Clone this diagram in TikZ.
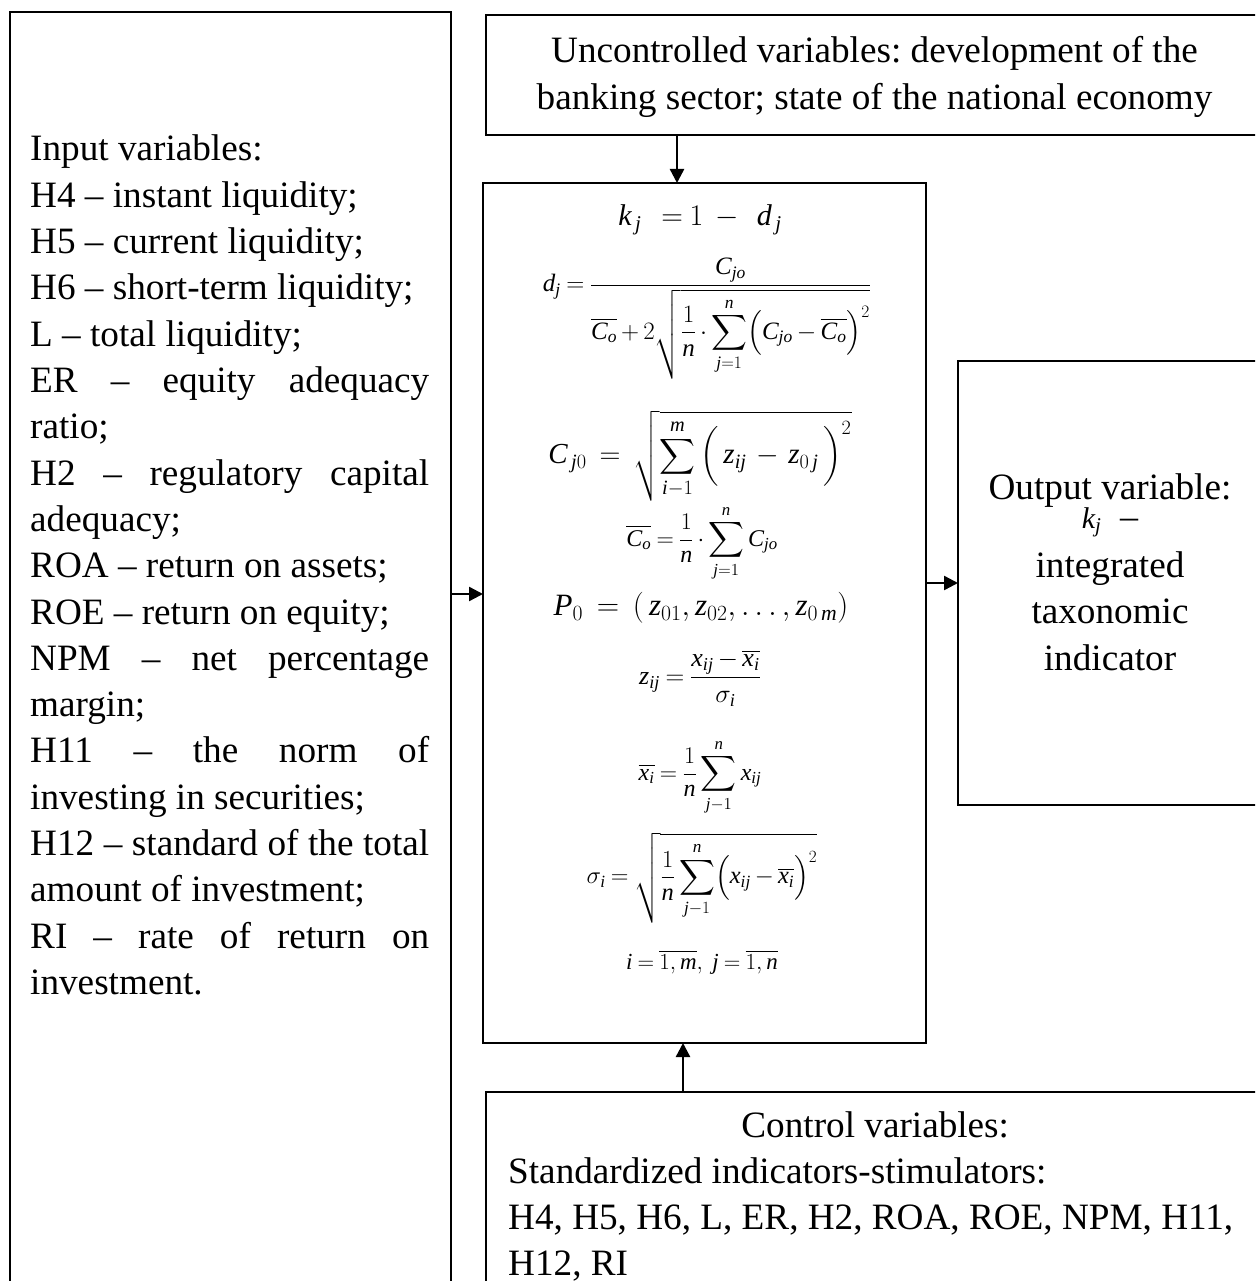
\RequirePackage{fix-cm}
\documentclass[tikz,border=0pt]{standalone}
\usepackage{amsmath}
\usepackage{fontspec}
\setmainfont{Liberation Serif}
\usetikzlibrary{arrows.meta}
% Times-like letters and digits in the formulas
\DeclareSymbolFont{lettersT}{TU}{\rmdefault}{m}{it}
\DeclareSymbolFont{digitsT}{TU}{\rmdefault}{m}{n}
\DeclareMathSymbol{C}{\mathalpha}{lettersT}{`C}
\DeclareMathSymbol{P}{\mathalpha}{lettersT}{`P}
\DeclareMathSymbol{d}{\mathalpha}{lettersT}{`d}
\DeclareMathSymbol{i}{\mathalpha}{lettersT}{`i}
\DeclareMathSymbol{j}{\mathalpha}{lettersT}{`j}
\DeclareMathSymbol{k}{\mathalpha}{lettersT}{`k}
\DeclareMathSymbol{m}{\mathalpha}{lettersT}{`m}
\DeclareMathSymbol{n}{\mathalpha}{lettersT}{`n}
\DeclareMathSymbol{o}{\mathalpha}{lettersT}{`o}
\DeclareMathSymbol{x}{\mathalpha}{lettersT}{`x}
\DeclareMathSymbol{z}{\mathalpha}{lettersT}{`z}
\DeclareMathSymbol{0}{\mathalpha}{digitsT}{`0}
\DeclareMathSymbol{1}{\mathalpha}{digitsT}{`1}
\DeclareMathSymbol{2}{\mathalpha}{digitsT}{`2}
\newcommand\bodysize{\fontsize{37.2}{46.3}\selectfont\frenchspacing}
\newcommand\tightsp{\spaceskip=0.25em\relax}
\newcommand\eqat[1]{\fontsize{#1}{#1}\selectfont\thickmuskip=4mu plus 2mu\medmuskip=3mu}
\newcommand\kjsize{\fontsize{30}{32}\selectfont}
\hyphenpenalty=10000
\tikzstyle{box}=[draw,line width=2.2pt,inner sep=0pt,outer sep=0pt,anchor=north west]
\tikzstyle{txt}=[inner sep=0pt,font=\bodysize]
\tikzstyle{eq}=[inner sep=0pt,font=\eqat{26}]
\tikzstyle{arr}=[line width=2.4pt,-{Triangle[length=14pt,width=14pt]}]

\begin{document}
\begin{tikzpicture}[x=1pt,y=-1pt]
	\useasboundingbox (0,0) rectangle (1255,1281);
	\clip (0,0) rectangle (1255,1281);
	
	% frames
	\node[box,minimum width=441pt,minimum height=1300pt] (input) at (10,12) {};
	\node[box,minimum width=777pt,minimum height=120pt] (unctrl) at (486,15) {};
	\node[box,minimum width=443pt,minimum height=860pt] (model) at (483,183) {};
	\node[box,minimum width=305pt,minimum height=444pt] (output) at (958,361) {};
	\node[box,minimum width=777pt,minimum height=250pt] (ctrl) at (486,1092) {};
	
	% texts
	\node[txt,text width=399pt,align=justify,anchor=base west] (inputtxt) at (30,161) {Input variables:\par
		H4 – instant liquidity;\par
		H5 – current liquidity;\par
		H6 – short-term liquidity;\par
		L – total liquidity;\par
		ER – equity adequacy\linebreak ratio;\par
		H2 – regulatory capital\linebreak adequacy;\par
		ROA – return on assets;\par
		ROE – return on equity;\par
		NPM – net percentage\linebreak margin;\par
		H11 – the norm of\linebreak investing in securities;\par
		H12 – standard of the total\linebreak amount of investment;\par
		RI – rate of return on\linebreak investment.};
	\node[txt,text width=760pt,anchor=base] (unctrltxt) at (874.5,63) {\tightsp\centering Uncontrolled variables: development of the\\ banking sector; state of the national economy\par};
	\node[txt,text width=290pt,anchor=base] (outtxt) at (1110,499) {\tightsp\centering Output variable:\\[-17pt] {\kjsize $k_j$}\enspace{\fontsize{36}{36}\selectfont –}\\[3pt] integrated\\ taxonomic\\ indicator\par};
	\node[txt,text width=745pt,anchor=base west] (ctrltxt) at (508,1137) {\tightsp\centering\hspace*{-11pt}Control variables:\par
		\raggedright Standardized indicators-stimulators:\\ H4, H5, H6, L, ER, H2, ROA, ROE, NPM, H11,\\ H12, RI\par};
	
	% formulas
	\node[eq,font=\eqat{30}] (kj) at (700,220) {$k_{\,j}\;\;=1\;-\;\;d_{\,j}$};
	\node[eq,font=\eqat{25}] (dj) at (707,319) {$\displaystyle d_j=\frac{C_{jo}}{\overline{C_o}+2\sqrt{\displaystyle\frac{1}{n}\cdot\sum_{j=1}^{n}\Bigl(C_{jo}-\overline{C_o}\Bigr)^{2}}}$};
	\node[eq,font=\eqat{29}] (cj0) at (700,456) {$\displaystyle C_{\,j0}\;=\;\sqrt{\sum_{i{-}1}^{m}\,\Bigl(\,z_{ij}\,-\,z_{0\,j}\,\Bigr)^{2}}$};
	\node[eq,font=\eqat{24}] (co) at (702,543) {$\displaystyle \overline{C_o}=\frac{1}{n}\cdot\sum_{j=1}^{n}C_{jo}$};
	\node[eq,font=\eqat{31}] (p0) at (701,608) {$P_0\;=\;(\,z_{01},z_{02},\ldots,z_{0\,m})$};
	\node[eq] (zij) at (700,678) {$\displaystyle z_{ij}=\frac{x_{ij}-\overline{x_i}}{\sigma_i}$};
	\node[eq,font=\eqat{24}] (xi) at (700,777) {$\displaystyle \overline{x_i}=\frac{1}{n}\sum_{j{-}1}^{n}x_{ij}$};
	\node[eq,font=\eqat{24.5}] (sig) at (702,878) {$\displaystyle \sigma_i=\sqrt{\frac{1}{n}\sum_{j{-}1}^{n}\Bigl(x_{ij}-\overline{x_i}\Bigr)^{2}}$};
	\node[eq,font=\eqat{23}] (idx) at (702,962) {$i=\overline{1,m},\ j=\overline{1,n}$};
	
	% arrows
	\draw[arr] ([xshift=-27.5pt]model.north |- unctrl.south) -- ([xshift=-27.5pt]model.north);
	\draw[arr] ([yshift=19pt]input.east |- model.west) -- ([yshift=19pt]model.west);
	\draw[arr] (model.east |- output.west) -- (output.west);
	\draw[arr] ([xshift=-21.5pt]model.south |- ctrl.north) -- ([xshift=-21.5pt]model.south);
\end{tikzpicture}
\end{document}
